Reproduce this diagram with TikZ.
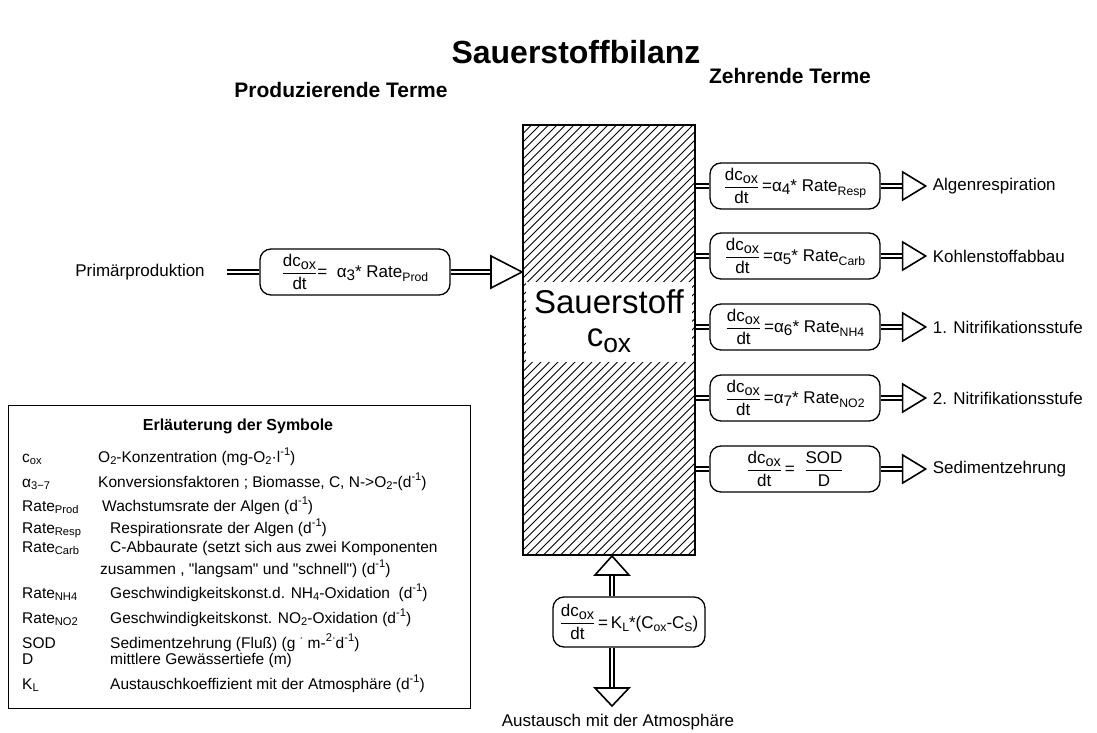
\documentclass[tikz,border=0pt]{standalone}
\usepackage{fontspec}
\setmainfont{Liberation Sans}[Ligatures=TeXOff]
\usepackage{graphicx}
\usetikzlibrary{calc}
\newcommand\fs[1]{\fontsize{#1}{#1}\selectfont}
\newcommand\sbs[1]{\raisebox{-0.35ex}{\scalebox{0.72}{#1}}}
\newcommand\sps[1]{\raisebox{0.75ex}{\scalebox{0.72}{#1}}}
\newcommand\oxs{\raisebox{-0.3ex}{\scalebox{0.85}{ox}}}
\newcommand\dcdt{$\displaystyle\frac{\mbox{dc\oxs}}{\mbox{dt}}$}
\newcommand\alf[1]{α\raisebox{-0.25ex}{\scalebox{0.9}{#1}}\raisebox{0.1ex}{*}}
\begin{document}
\begin{tikzpicture}[x=1pt,y=-1pt,
  fbox/.style={draw, line width=1.3pt, rounded corners=11pt, minimum width=170pt, minimum height=46pt, inner sep=2pt, font=\fs{17}},
  dbl/.style={double, double distance=2.2pt, line width=1.5pt},
  head/.style={draw, line width=1.6pt, fill=white, line join=miter},
  lbl/.style={font=\fs{17}, inner sep=0pt},
  hd/.style={font=\bfseries\fs{21}, inner sep=0pt},
  lg/.style={font=\fs{15.5}, inner sep=0pt, anchor=base west},
  hatch/.style={line width=0.75pt}]
\useasboundingbox (0,0) rectangle (1097,733);

% hatched oxygen box
\begin{scope}
\clip (523,125) rectangle (695,555);
\foreach \i in {0,...,72} \draw[hatch] (523+\i*8.5,125) -- ++(-440,440);
\end{scope}
\node[fill=white, minimum width=166pt, minimum height=80pt, inner sep=0pt] (win) at (609,322) {};
\node[font=\fs{33}, inner sep=0pt] (sauer) at (609,302) {Sauerstoff};
\node[font=\fs{33}, inner sep=0pt] (cox) at (609,341) {c\raisebox{-0.35ex}{\scalebox{0.8}{ox}}};
\node[draw, line width=2pt, minimum width=172pt, minimum height=430pt, inner sep=0pt] (ox) at (609,340) {};

% headings
\node[font=\bfseries\fs{32}, inner sep=0pt] (title) at (576,52) {Sauerstoffbilanz};
\node[hd] (prodT) at (341,90) {Produzierende Terme};
\node[hd] (zehrT) at (790,76) {Zehrende Terme};

% consuming terms
\node[fbox] (b1) at (795,186) {\dcdt\,=\alf{4} Rate\sbs{Resp}};
\node[fbox] (b2) at (795,256) {\dcdt\,=\alf{5} Rate\sbs{Carb}};
\node[fbox] (b3) at (795,327) {\dcdt\,=\alf{6} Rate\sbs{NH4}};
\node[fbox] (b4) at (795,398) {\dcdt\,=\alf{7} Rate\sbs{NO2}};
\node[fbox] (b5) at (795,469) {\dcdt\,= \ $\displaystyle\frac{\mbox{SOD}}{\mbox{D}}$\hspace{4em}};
\foreach \b/\t in {b1/Algenrespiration,b2/Kohlenstoffabbau,b3/{1. Nitrifikationsstufe},b4/{2. Nitrifikationsstufe},b5/Sedimentzehrung}{
  \draw[dbl] (ox.east |- \b.west) -- (\b.west);
  \draw[dbl] (\b.east) -- ++(23,0);
  \draw[head] ($(\b.east)+(22,-14)$) -- ++(23,14) -- ++(-23,14) -- cycle;
  \node[lbl, anchor=west] (l\b) at ($(\b.east)+(52,0)$) {\t};
}

% producing term
\node[lbl] (prim) at (140,272) {Primärproduktion};
\node[fbox, minimum width=190pt] (prod) at (355,272) {\dcdt= \ \alf{3} Rate\sbs{Prod}};
\draw[dbl] ([xshift=22pt]prim.east) -- (prod.west);
\draw[dbl] (prod.east) -- ($(ox.west |- prod.east)+(-30,0)$);
\draw[head] ($(ox.west |- prod.east)+(-31,-16)$) -- ++(31,16) -- ++(-31,16) -- cycle;

% exchange with atmosphere
\coordinate (ax) at (612,0);
\node[fbox, minimum width=152pt, minimum height=50pt] (kl) at (629,622) {\dcdt\,=\,K\sbs{L}*(C\sbs{ox}-C\sbs{S})};
\draw[dbl] (kl.north -| ax) -- ($(ox.south -| ax)+(0,18)$);
\draw[head] ($(ox.south -| ax)+(-17,19)$) -- ++(17,-19) -- ++(17,19) -- cycle;
\node[lbl] (atm) at (618,722) {Austausch mit der Atmosphäre};
\coordinate (dtip) at (612,706);
\draw[dbl] (kl.south -| ax) -- ($(dtip)+(0,-17)$);
\draw[head] ($(dtip)+(-17,-18)$) -- ++(17,18) -- ++(17,-18) -- cycle;

% legend
\node[draw, line width=1pt, minimum width=462pt, minimum height=303pt, inner sep=0pt, anchor=north west] (leg) at (8,405) {};
\node[font=\bfseries\fs{16}, inner sep=0pt] (legT) at (238,426) {Erläuterung der Symbole};
\node[lg] (s1) at (22,462) {c\sbs{ox}};
\node[lg] (d1) at (98,462) {O\sbs{2}-Konzentration (mg-O\sbs{2}·l\sps{-1})};
\node[lg] (s2) at (22,487) {α\sbs{3−7}};
\node[lg] (d2) at (98,487) {Konversionsfaktoren ; Biomasse, C, N->O\sbs{2}-(d\sps{-1})};
\node[lg] (s3) at (22,511) {Rate\sbs{Prod}};
\node[lg] (d3) at (102,511) {Wachstumsrate der Algen (d\sps{-1})};
\node[lg] (s4) at (22,533) {Rate\sbs{Resp}};
\node[lg] (d4) at (110,533) {Respirationsrate der Algen (d\sps{-1})};
\node[lg] (s5) at (22,552) {Rate\sbs{Carb}};
\node[lg] (d5) at (110,552) {C-Abbaurate (setzt sich aus zwei Komponenten};
\node[lg] (d6) at (100,574) {zusammen , "langsam" und "schnell") (d\sps{-1})};
\node[lg] (s7) at (22,598) {Rate\sbs{NH4}};
\node[lg] (d7) at (110,598) {Geschwindigkeitskonst.d. NH\sbs{4}-Oxidation \ (d\sps{-1})};
\node[lg] (s8) at (22,623) {Rate\sbs{NO2}};
\node[lg] (d8) at (110,623) {Geschwindigkeitskonst. NO\sbs{2}-Oxidation (d\sps{-1})};
\node[lg] (s9) at (22,648) {SOD};
\node[lg] (d9) at (110,648) {Sedimentzehrung (Fluß) (g \sps{·} m-\sps{2·}d\sps{-1})};
\node[lg] (s10) at (22,664) {D};
\node[lg] (d10) at (110,664) {mittlere Gewässertiefe (m)};
\node[lg] (s11) at (22,689) {K\sbs{L}};
\node[lg] (d11) at (110,689) {Austauschkoeffizient mit der Atmosphäre (d\sps{-1})};
\end{tikzpicture}
\end{document}
